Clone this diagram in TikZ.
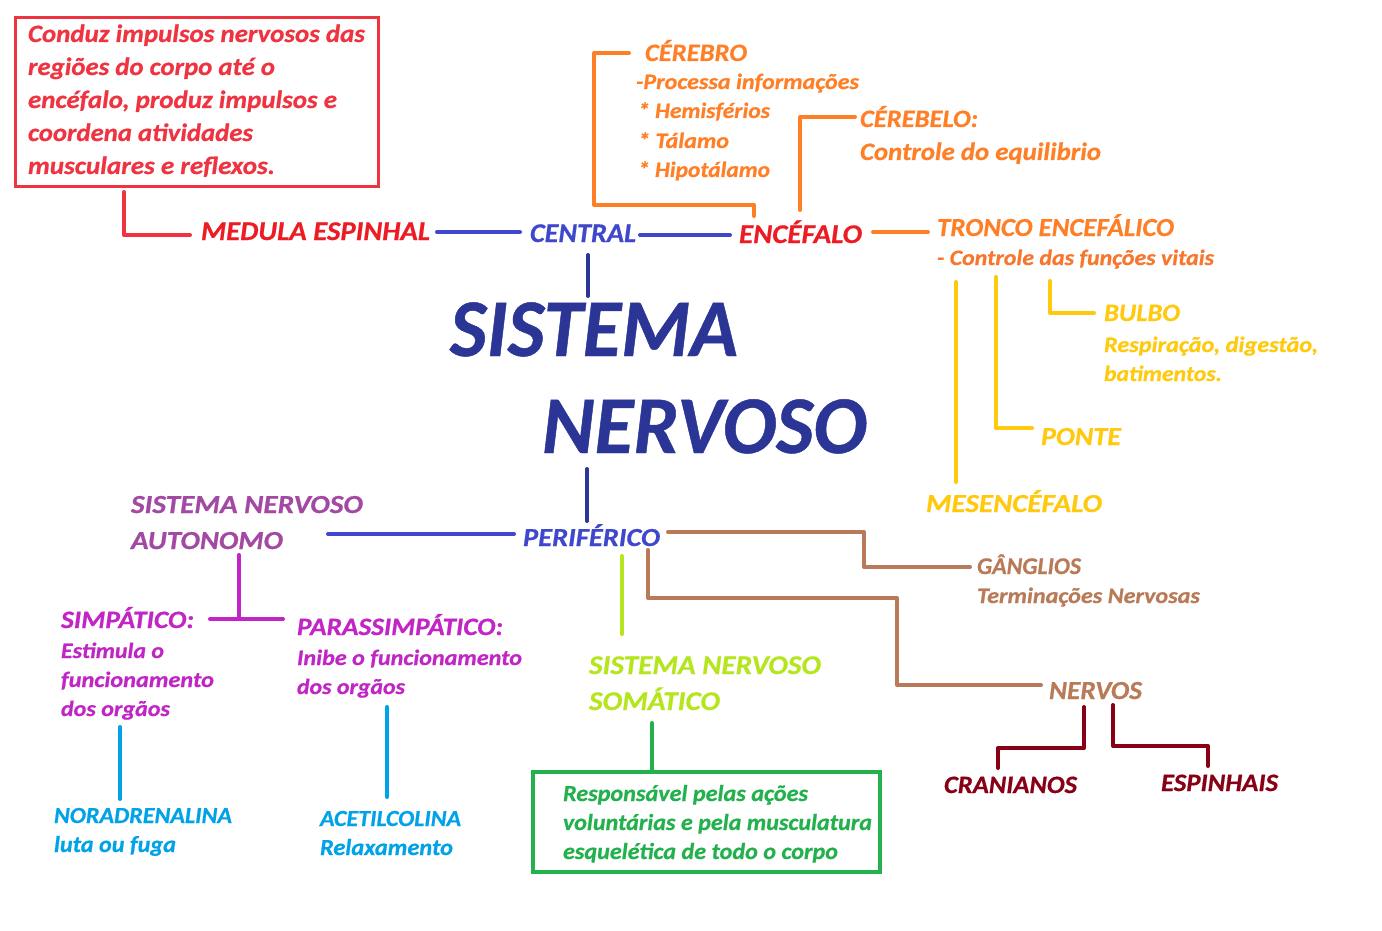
\documentclass[tikz,border=0pt]{standalone}
\usepackage{fontspec}
\usepackage{graphicx}
\setmainfont{Carlito}[BoldItalicFeatures={FakeBold=0.6}]
\definecolor{cRed}{HTML}{ED1C24}
\definecolor{cRedB}{HTML}{EF3340}
\definecolor{cBlue}{HTML}{3F48CC}
\definecolor{cNavy}{HTML}{2B3595}
\definecolor{cOrange}{HTML}{FF7F27}
\definecolor{cOrange2}{HTML}{F7772E}
\definecolor{cYellow}{HTML}{FFC90E}
\definecolor{cPurple}{HTML}{A349A4}
\definecolor{cMagenta}{HTML}{C125C5}
\definecolor{cCyan}{HTML}{00A2E8}
\definecolor{cLime}{HTML}{B5E61D}
\definecolor{cGreen}{HTML}{22B14C}
\definecolor{cBrown}{HTML}{B97A57}
\definecolor{cDark}{HTML}{880015}
\newcommand\tx[3]{{\fontsize{#1}{#1}\selectfont\resizebox{#2pt}{\height}{#3}}}
\tikzset{
  lbl/.style={inner sep=0pt, outer sep=0pt, anchor=base west, font=\bfseries\itshape},
  conn/.style={line width=4pt, line cap=round, line join=round},
}
\begin{document}
\begin{tikzpicture}[x=1pt,y=-1pt]
\useasboundingbox[fill=white] (0,0) rectangle (1382,931);

% ---------- red box + medula
\node[draw=cRedB, line width=3pt, minimum width=363pt, minimum height=169pt, anchor=north west, inner sep=0pt] (box1) at (14,16) {};
\node[lbl, text=cRedB] (b1a) at (28,42) {\tx{25}{337}{Conduz impulsos nervosos das}};
\node[lbl, text=cRedB] (b1b) at (28,75) {\tx{25}{247}{regiões do corpo até o}};
\node[lbl, text=cRedB] (b1c) at (28,108) {\tx{25}{309}{encéfalo, produz impulsos e}};
\node[lbl, text=cRedB] (b1d) at (28,141) {\tx{25}{225}{coordena atividades}};
\node[lbl, text=cRedB] (b1e) at (28,174) {\tx{25}{247}{musculares e reflexos.}};
\node[lbl, text=cRed] (medula) at (201,240) {\tx{27}{229}{MEDULA ESPINHAL}};
\coordinate (m1) at (124,192);
\coordinate (m2) at (190,235);
\draw[conn, cRedB] (m1) |- (m2);

% ---------- central / encefalo
\node[lbl, text=cBlue] (central) at (530,242) {\tx{27}{106}{CENTRAL}};
\node[lbl, text=cRed] (encefalo) at (739,243) {\tx{27}{123}{ENCÉFALO}};
\coordinate (l1a) at (437,232); \coordinate (l1b) at (520,232);
\coordinate (l2a) at (640,235); \coordinate (l2b) at (730,235);
\draw[conn, cBlue] (l1a) -- (l1b);
\draw[conn, cBlue] (l2a) -- (l2b);

% ---------- title
\node[lbl, text=cNavy] (sistema) at (450,356) {\tx{82}{288}{SISTEMA}};
\node[lbl, text=cNavy] (nervoso) at (542,453) {\tx{82}{325}{NERVOSO}};
\coordinate (t1a) at (588,255); \coordinate (t1b) at (588,296);
\coordinate (t2a) at (587,469); \coordinate (t2b) at (587,521);
\draw[conn, cNavy] (t1a) -- (t1b);
\draw[conn, cNavy] (t2a) -- (t2b);

% ---------- cerebro
\node[lbl, text=cOrange] (cerebro) at (645,61) {\tx{25}{102}{CÉREBRO}};
\node[lbl, text=cOrange] (cer1) at (636,89) {\tx{22}{223}{-Processa informações}};
\node[lbl, text=cOrange] (cer2) at (638,118) {\tx{22}{132}{* Hemisférios}};
\node[lbl, text=cOrange] (cer3) at (638,148) {\tx{22}{91}{* Tálamo}};
\node[lbl, text=cOrange] (cer4) at (638,177) {\tx{22}{132}{* Hipotálamo}};
\coordinate (o1) at (629,53);
\coordinate (o2) at (594,205);
\coordinate (o3) at (754,216);
\draw[conn, cOrange] (o1) -| (o2) -| (o3);

% ---------- cerebelo
\node[lbl, text=cOrange] (cerebelo) at (860,127) {\tx{25}{118}{CÉREBELO:}};
\node[lbl, text=cOrange] (cbl1) at (860,160) {\tx{25}{241}{Controle do equilibrio}};
\coordinate (o4) at (800,210);
\coordinate (o5) at (855,117);
\draw[conn, cOrange] (o4) |- (o5);

% ---------- tronco
\node[lbl, text=cOrange] (tronco) at (937,236) {\tx{26}{237}{TRONCO ENCEFÁLICO}};
\node[lbl, text=cOrange2] (tr1) at (937,265) {\tx{22}{277}{- Controle das funções vitais}};
\coordinate (o6) at (873,232); \coordinate (o7) at (928,232);
\draw[conn, cOrange] (o6) -- (o7);

% ---------- bulbo / ponte / mesencefalo
\node[lbl, text=cYellow] (bulbo) at (1104,321) {\tx{25}{76}{BULBO}};
\node[lbl, text=cYellow] (bu1) at (1104,352) {\tx{22}{214}{Respiração, digestão,}};
\node[lbl, text=cYellow] (bu2) at (1104,381) {\tx{22}{118}{batimentos.}};
\node[lbl, text=cYellow] (ponte) at (1041,445) {\tx{26}{80}{PONTE}};
\node[lbl, text=cYellow] (mesen) at (926,512) {\tx{26}{176}{MESENCÉFALO}};
\coordinate (y1) at (1050,281); \coordinate (y2) at (1094,313);
\coordinate (y3) at (996,277); \coordinate (y4) at (1032,428);
\coordinate (y5) at (956,282); \coordinate (y6) at (956,482);
\draw[conn, cYellow] (y1) |- (y2);
\draw[conn, cYellow] (y3) |- (y4);
\draw[conn, cYellow] (y5) -- (y6);

% ---------- periferico
\node[lbl, text=cBlue] (perif) at (523,546) {\tx{26}{137}{PERIFÉRICO}};
\node[lbl, text=cPurple] (sna1) at (131,513) {\tx{26}{232}{SISTEMA NERVOSO}};
\node[lbl, text=cPurple] (sna2) at (131,549) {\tx{26}{152}{AUTONOMO}};
\coordinate (p1) at (328,534); \coordinate (p2) at (514,534);
\draw[conn, cBlue] (p1) -- (p2);

% ---------- simpatico / parassimpatico
\node[lbl, text=cMagenta] (simp) at (61,628) {\tx{25}{133}{SIMPÁTICO:}};
\node[lbl, text=cMagenta] (si1) at (61,658) {\tx{22}{103}{Estimula o}};
\node[lbl, text=cMagenta] (si2) at (61,687) {\tx{22}{153}{funcionamento}};
\node[lbl, text=cMagenta] (si3) at (61,716) {\tx{22}{109}{dos orgãos}};
\node[lbl, text=cMagenta] (para) at (297,635) {\tx{25}{206}{PARASSIMPÁTICO:}};
\node[lbl, text=cMagenta] (pa1) at (297,665) {\tx{22}{225}{Inibe o funcionamento}};
\node[lbl, text=cMagenta] (pa2) at (297,694) {\tx{22}{108}{dos orgãos}};
\coordinate (g1) at (239,555); \coordinate (g2) at (239,619);
\coordinate (g3) at (210,619); \coordinate (g4) at (283,619);
\draw[conn, cMagenta] (g1) -- (g2);
\draw[conn, cMagenta] (g3) -- (g4);

% ---------- neurotransmissores
\node[lbl, text=cCyan] (nora) at (54,823) {\tx{23}{178}{NORADRENALINA}};
\node[lbl, text=cCyan] (no1) at (54,852) {\tx{23}{122}{luta ou fuga}};
\node[lbl, text=cCyan] (acet) at (320,826) {\tx{23}{141}{ACETILCOLINA}};
\node[lbl, text=cCyan] (ac1) at (320,855) {\tx{23}{133}{Relaxamento}};
\coordinate (c1) at (120,727); \coordinate (c2) at (120,799);
\coordinate (c3) at (387,707); \coordinate (c4) at (387,797);
\draw[conn, cCyan] (c1) -- (c2);
\draw[conn, cCyan] (c3) -- (c4);

% ---------- somatico
\node[lbl, text=cLime] (sns1) at (589,674) {\tx{27}{232}{SISTEMA NERVOSO}};
\node[lbl, text=cLime] (sns2) at (589,710) {\tx{27}{131}{SOMÁTICO}};
\coordinate (s1) at (622,556); \coordinate (s2) at (622,634);
\draw[conn, cLime] (s1) -- (s2);
\node[draw=cGreen, line width=4pt, minimum width=347pt, minimum height=100pt, anchor=north west, inner sep=0pt] (box2) at (531,770) {};
\node[lbl, text=cGreen] (bx1) at (563,801) {\tx{23}{245}{Responsável pelas ações}};
\node[lbl, text=cGreen] (bx2) at (563,830) {\tx{23}{309}{voluntárias e pela musculatura}};
\node[lbl, text=cGreen] (bx3) at (563,859) {\tx{23}{275}{esquelética de todo o corpo}};
\coordinate (s3) at (652,723);
\draw[conn, cGreen] (s3) -- (box2.north -| s3);

% ---------- ganglios / nervos
\node[lbl, text=cBrown] (gang) at (977,574) {\tx{24}{104}{GÂNGLIOS}};
\node[lbl, text=cBrown] (ga1) at (977,603) {\tx{22}{223}{Terminações Nervosas}};
\node[lbl, text=cBrown] (nervos) at (1049,699) {\tx{26}{93}{NERVOS}};
\coordinate (r1) at (668,532); \coordinate (r2) at (864,567); \coordinate (r3) at (970,567);
\draw[conn, cBrown] (r1) -| (r2) -- (r3);
\coordinate (r4) at (648,550); \coordinate (r5) at (897,598); \coordinate (r6) at (897,685); \coordinate (r7) at (1041,685);
\draw[conn, cBrown] (r4) |- (r5) -- (r6) -- (r7);

% ---------- cranianos / espinhais
\node[lbl, text=cDark] (cran) at (944,793) {\tx{25}{133}{CRANIANOS}};
\node[lbl, text=cDark] (espi) at (1161,791) {\tx{25}{117}{ESPINHAIS}};
\coordinate (d1) at (1084,707); \coordinate (d2) at (1084,748); \coordinate (d3) at (998,768);
\draw[conn, cDark] (d1) -- (d2) -| (d3);
\coordinate (d4) at (1113,705); \coordinate (d5) at (1113,746); \coordinate (d6) at (1208,766);
\draw[conn, cDark] (d4) -- (d5) -| (d6);
\end{tikzpicture}
\end{document}
